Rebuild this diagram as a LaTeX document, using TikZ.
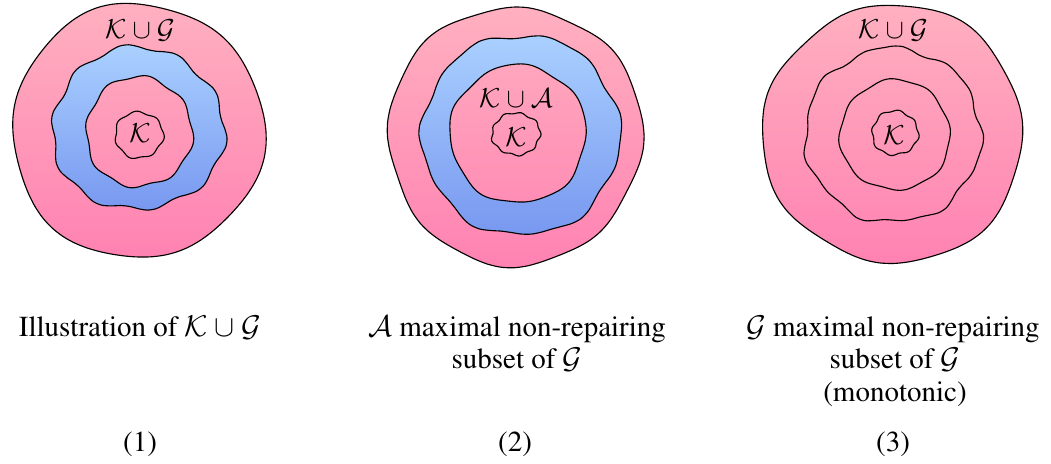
\documentclass[tikz,border=0pt]{standalone}
\usepackage[T1]{fontenc}
\usepackage{times}
\definecolor{pinktop}{HTML}{FFB0C0}
\definecolor{pinkbot}{HTML}{FF82B2}
\definecolor{bluetop}{HTML}{AAD0FF}
\definecolor{bluebot}{HTML}{7898F0}
% cx, cy, rx, ry, a1, k1, phase, a2, k2
\newcommand\wob[9]{plot[smooth cycle,domain=0:354,samples=60,variable=\t]({#1+#3*(1+#5*sin(#6*\t+#7)+#8*sin(#9*\t+2*#7+30))*cos(\t)},{#2+#4*(1+#5*sin(#6*\t+#7)+#8*sin(#9*\t+2*#7+30))*sin(\t)})}
\tikzset{
  pinkfill/.style={top color=pinktop,bottom color=pinkbot},
  bluefill/.style={top color=bluetop,bottom color=bluebot},
  edge/.style={draw=black,line width=0.45pt},
  caption/.style={anchor=base,font=\fontsize{11.6}{13}\selectfont,inner sep=0pt},
  setlabel/.style={font=\fontsize{11}{12}\selectfont,inner sep=0pt},
}
\begin{document}
\begin{tikzpicture}[x=0.4pt,y=-0.4pt]
\useasboundingbox (0,0) rectangle (1051,463);

% ---------- blob 1 ----------
\path[pinkfill,edge] \wob{138}{131}{126}{127}{0.012}{6}{20}{0.012}{3};
\path[bluefill,edge] \wob{138}{129}{86}{81}{0.03}{10}{0}{0.02}{3};
\begin{scope}
  \clip \wob{139}{132}{53}{55}{0.03}{8}{10}{0.015}{3};
  \path[pinkfill] (8,4) rectangle (268,258);
\end{scope}
\draw[edge] \wob{139}{132}{53}{55}{0.03}{8}{10}{0.015}{3};
\draw[edge] \wob{139}{135}{24}{23}{0.045}{7}{40}{0.02}{3};
\node[setlabel] (l1a) at (140,30) {$\mathcal{K}\cup\mathcal{G}$};
\node[setlabel] (l1b) at (140,133) {$\mathcal{K}$};

% ---------- blob 2 ----------
\path[pinkfill,edge] \wob{515}{136}{127}{129}{0.012}{8}{60}{0.012}{3};
\path[bluefill,edge] \wob{521}{135}{99}{100}{0.02}{6}{100}{0.015}{11};
\begin{scope}
  \clip \wob{518}{134}{68}{69}{0.02}{5}{200}{0.01}{9};
  \path[pinkfill] (385,6) rectangle (645,266);
\end{scope}
\draw[edge] \wob{518}{134}{68}{69}{0.02}{5}{200}{0.01}{9};
\draw[edge] \wob{516}{134}{24}{21}{0.045}{9}{70}{0.02}{4};
\node[setlabel] (l2a) at (516,98) {$\mathcal{K}\cup\mathcal{A}$};
\node[setlabel] (l2b) at (516,137) {$\mathcal{K}$};

% ---------- blob 3 ----------
\path[pinkfill,edge] \wob{893}{134}{130}{129}{0.012}{7}{130}{0.012}{3};
\draw[edge] \wob{893}{135}{88}{87}{0.025}{7}{30}{0.015}{13};
\draw[edge] \wob{895}{135}{55}{55}{0.02}{8}{150}{0.012}{3};
\draw[edge] \wob{895}{133}{23}{22}{0.045}{8}{10}{0.02}{3};
\node[setlabel] (l3a) at (893,30) {$\mathcal{K}\cup\mathcal{G}$};
\node[setlabel] (l3b) at (894,135) {$\mathcal{K}$};

% ---------- captions ----------
\node[caption] (c1) at (140,336) {Illustration of $\mathcal{K}\cup\mathcal{G}$};
\node[caption] (c2a) at (517,336) {$\mathcal{A}$ maximal non-repairing};
\node[caption] (c2b) at (517,368.5) {subset of $\mathcal{G}$};
\node[caption] (c3a) at (893,336) {$\mathcal{G}$ maximal non-repairing};
\node[caption] (c3b) at (895,368.5) {subset of $\mathcal{G}$};
\node[caption] (c3c) at (895,401) {(monotonic)};
\node[caption] (n1) at (140,451) {(1)};
\node[caption] (n2) at (515,451) {(2)};
\node[caption] (n3) at (893,451) {(3)};
\end{tikzpicture}
\end{document}
